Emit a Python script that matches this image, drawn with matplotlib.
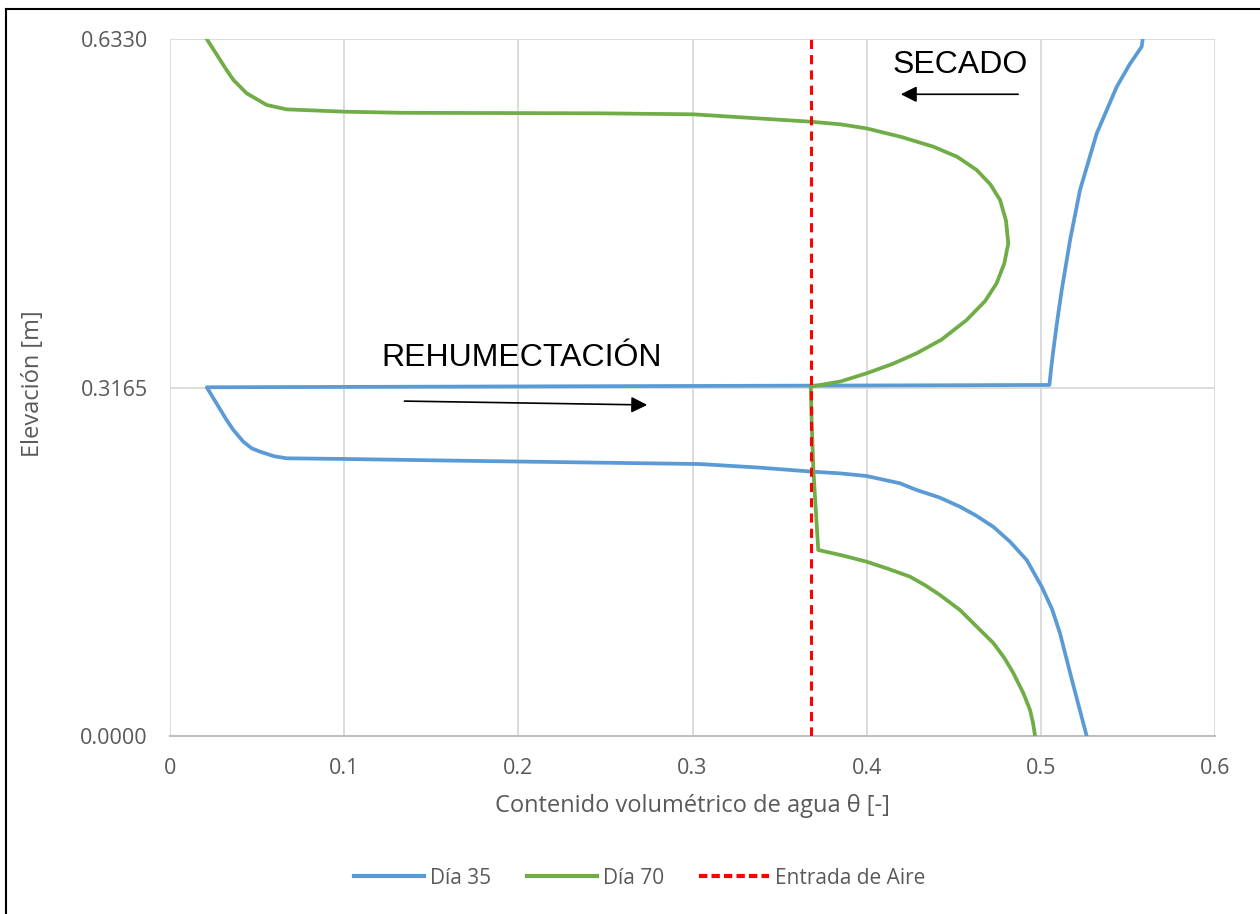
import matplotlib
matplotlib.use("Agg")
import matplotlib.pyplot as plt
from matplotlib.lines import Line2D

# --- data ---
dia35_theta = [0.5263, 0.5254, 0.5180, 0.5110, 0.5065, 0.5005, 0.4919, 0.4823,
               0.4727, 0.4630, 0.4536, 0.4420, 0.4287, 0.4191, 0.4090, 0.4000,
               0.3850, 0.3694, 0.3388, 0.3040, 0.1665, 0.0995, 0.0670, 0.0600,
               0.0570, 0.0517, 0.0469, 0.0421, 0.0364, 0.0325, 0.0211,
               0.5049, 0.5060, 0.5072, 0.5095, 0.5120, 0.5168, 0.5225, 0.5321,
               0.5436, 0.5510, 0.5579, 0.5585]
dia35_elev = [0.0000, 0.0055, 0.0500, 0.0933, 0.1150, 0.1356, 0.1598, 0.1765,
              0.1900, 0.2000, 0.2082, 0.2165, 0.2234, 0.2295, 0.2330, 0.2361,
              0.2385, 0.2400, 0.2437, 0.2470, 0.2500, 0.2516, 0.2522, 0.2540,
              0.2555, 0.2582, 0.2613, 0.2673, 0.2779, 0.2870, 0.3167,
              0.3188, 0.3350, 0.3506, 0.3780, 0.4050, 0.4505, 0.4959, 0.5473,
              0.5897, 0.6100, 0.6260, 0.6330]

dia70_theta = [0.4967, 0.4955, 0.4938, 0.4900, 0.4842, 0.4790, 0.4727, 0.4632,
               0.4536, 0.4421, 0.4340, 0.4249, 0.4120, 0.4000, 0.3860, 0.3722,
               0.3694, 0.3684, 0.3679,
               0.3850, 0.4000, 0.4150, 0.4287, 0.4430, 0.4574, 0.4680, 0.4746,
               0.4790, 0.4813, 0.4800, 0.4766, 0.4710, 0.4632, 0.4520, 0.4383,
               0.4200, 0.4000, 0.3850, 0.3679, 0.3005, 0.2469, 0.1321, 0.0999,
               0.0670, 0.0555, 0.0440, 0.0364, 0.0325, 0.0211]
dia70_elev = [0.0000, 0.0120, 0.0236, 0.0388, 0.0572, 0.0710, 0.0845, 0.0993,
              0.1144, 0.1280, 0.1365, 0.1447, 0.1520, 0.1583, 0.1640, 0.1689,
              0.2416, 0.2870, 0.3173,
              0.3220, 0.3294, 0.3380, 0.3476, 0.3600, 0.3778, 0.3950, 0.4111,
              0.4290, 0.4474, 0.4680, 0.4868, 0.5010, 0.5140, 0.5260, 0.5352,
              0.5440, 0.5518, 0.5555, 0.5579, 0.5646, 0.5655, 0.5660, 0.5670,
              0.5691, 0.5731, 0.5837, 0.5958, 0.6048, 0.6330]

entrada_theta = [0.3679, 0.3679]
entrada_elev = [0.0, 0.633]

x_ticks = [0, 0.1, 0.2, 0.3, 0.4, 0.5, 0.6]
x_ticklabels = ["0", "0.1", "0.2", "0.3", "0.4", "0.5", "0.6"]
y_ticks = [0.0, 0.3165, 0.633]
y_ticklabels = ["0.0000", "0.3165", "0.6330"]

BLUE = "#5b9bd5"
GREEN = "#70ad47"
RED = "#ff0000"
GRAY_TXT = "#595959"
GRID = "#d9d9d9"

plt.rcParams["font.family"] = ["Open Sans", "DejaVu Sans"]

fig = plt.figure(figsize=(12.6, 9.14), dpi=100, facecolor="white")
ax = fig.add_axes([170 / 1260, 178 / 914, 1045 / 1260, 697 / 914])

ax.plot(dia35_theta, dia35_elev, color=BLUE, lw=2.7, solid_joinstyle="round", zorder=3)
ax.plot(dia70_theta, dia70_elev, color=GREEN, lw=2.7, solid_joinstyle="round", zorder=3)
ax.plot(entrada_theta, entrada_elev, color=RED, lw=2.2, dashes=(3, 2), zorder=4)

ax.set_xlim(0, 0.6)
ax.set_ylim(0, 0.633)
ax.set_xticks(x_ticks)
ax.set_xticklabels(x_ticklabels)
ax.set_yticks(y_ticks)
ax.set_yticklabels(y_ticklabels)
ax.tick_params(length=0, labelsize=15.5, colors=GRAY_TXT, pad=16)
ax.grid(True, color=GRID, lw=1.3, zorder=0)
for s in ["top", "right", "left"]:
    ax.spines[s].set_visible(False)
ax.spines["bottom"].set_color("#bfbfbf")
ax.spines["bottom"].set_linewidth(1.5)

ax.set_xlabel("Contenido volumétrico de agua θ [-]", fontsize=17, color=GRAY_TXT)
ax.set_ylabel("Elevación [m]", fontsize=17, color=GRAY_TXT)
ax.xaxis.set_label_coords(0.5, -0.083)
ax.yaxis.set_label_coords(-0.12, 0.506)

# annotations
ax.text(0.4536, 0.6018, "SECADO", fontsize=23, family="Liberation Sans",
        ha="center", va="baseline", color="black")
ax.annotate("", xy=(0.418, 0.5828), xytext=(0.4886, 0.5828),
            arrowprops=dict(arrowstyle="-|>", color="black", lw=1.2, mutation_scale=24))
ax.text(0.2019, 0.336, "REHUMECTACIÓN", fontsize=23, family="Liberation Sans",
        ha="center", va="baseline", color="black")
ax.annotate("", xy=(0.2756, 0.3006), xytext=(0.1330, 0.3042),
            arrowprops=dict(arrowstyle="-|>", color="black", lw=1.2, mutation_scale=24))

handles = [
    Line2D([], [], color=BLUE, lw=3),
    Line2D([], [], color=GREEN, lw=3),
    Line2D([], [], color=RED, lw=3, dashes=(2, 1)),
]
fig.legend(handles, ["Día 35", "Día 70", "Entrada de Aire"], loc="center",
           bbox_to_anchor=(640 / 1260, 1 - 878 / 914), ncol=3, frameon=False,
           fontsize=15, labelcolor=GRAY_TXT, handlelength=3.35, handletextpad=0.3,
           columnspacing=1.7)

# outer frame
fig.add_artist(Line2D([6 / 1260, 6 / 1260], [0, 1 - 9 / 914], color="black", lw=1.5))
fig.add_artist(Line2D([6 / 1260, 1], [1 - 9 / 914, 1 - 9 / 914], color="black", lw=1.5))

fig.savefig("out.png", dpi=100, facecolor="white")
